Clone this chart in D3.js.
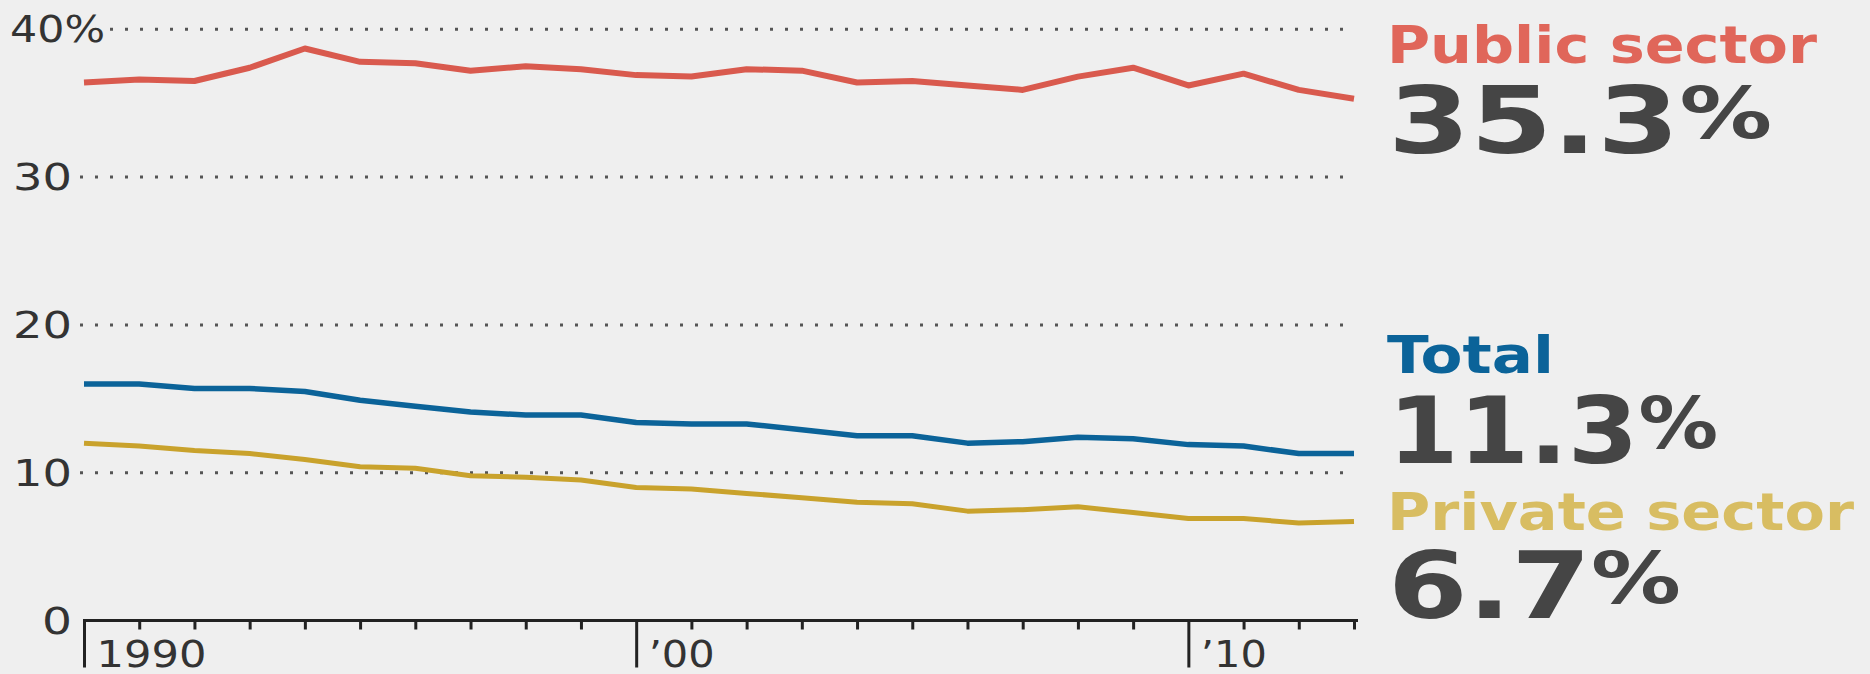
<!DOCTYPE html>
<html>
<head>
<meta charset="utf-8">
<script src="https://cdn.jsdelivr.net/npm/d3@7"></script>
<style>
  body { margin: 0; background: #efefef; }
  svg { display: block; }
</style>
</head>
<body>
<svg id="chart" width="1870" height="674"></svg>
<script>
var years = [1990, 1991, 1992, 1993, 1994, 1995, 1996, 1997, 1998, 1999, 2000, 2001,
             2002, 2003, 2004, 2005, 2006, 2007, 2008, 2009, 2010, 2011, 2012, 2013];
var publicSector = [36.4, 36.6, 36.5, 37.4, 38.7, 37.8, 37.7, 37.2, 37.5, 37.3, 36.9, 36.8,
                    37.3, 37.2, 36.4, 36.5, 36.2, 35.9, 36.8, 37.4, 36.2, 37.0, 35.9, 35.3];
var total = [16.0, 16.0, 15.7, 15.7, 15.5, 14.9, 14.5, 14.1, 13.9, 13.9, 13.4, 13.3,
             13.3, 12.9, 12.5, 12.5, 12.0, 12.1, 12.4, 12.3, 11.9, 11.8, 11.3, 11.3];
var privateSector = [12.0, 11.8, 11.5, 11.3, 10.9, 10.4, 10.3, 9.8, 9.7, 9.5, 9.0, 8.9,
                     8.6, 8.3, 8.0, 7.9, 7.4, 7.5, 7.7, 7.3, 6.9, 6.9, 6.6, 6.7];
var yTicks = [0, 10, 20, 30, 40];
var yLabels = ["0", "10", "20", "30", "40%"];
var decadeLabels = {1990: "1990", 2000: "\u201900", 2010: "\u201910"};
var seriesNames = ["Public sector", "Total", "Private sector"];
var latestValues = ["35.3", "11.3", "6.7"];

var svg = d3.select("#chart");

var x = d3.scaleLinear().domain([1990, 2013]).range([84, 1354]);
var y = d3.scaleLinear().domain([0, 40]).range([620.5, 29.3]);

// dotted gridlines
svg.append("g").selectAll("line")
    .data(yTicks.filter(function(d){ return d > 0; }))
    .enter().append("line")
    .attr("x1", function(d){ return d == 40 ? 110 : 80; })
    .attr("x2", 1352)
    .attr("y1", function(d){ return y(d); })
    .attr("y2", function(d){ return y(d); })
    .attr("stroke", "#555")
    .attr("stroke-width", 3)
    .attr("stroke-dasharray", "3,12");

// y labels
svg.append("g").selectAll("text")
    .data(yTicks)
    .enter().append("text")
    .attr("x", function(d){ return d == 40 ? 10 : 72; })
    .attr("y", function(d){ return y(d) + 13; })
    .attr("text-anchor", function(d){ return d == 40 ? "start" : "end"; })
    .attr("font-family", "DejaVu Sans")
    .attr("font-size", 37)
    .attr("fill", "#333")
    .attr("textLength", function(d){ return d == 40 ? 95 : (d == 0 ? 30 : 59); })
    .attr("lengthAdjust", "spacingAndGlyphs")
    .text(function(d, i){ return yLabels[i]; });

// x axis
var xAxis = d3.axisBottom(x)
    .tickValues(years)
    .tickSize(9)
    .tickSizeOuter(0)
    .tickFormat(function(d){ return decadeLabels[d] || ""; });

var gx = svg.append("g")
    .attr("transform", "translate(0,620.5)")
    .call(xAxis);

gx.select(".domain")
    .attr("stroke", "#222")
    .attr("stroke-width", 3)
    .attr("d", "M" + (x(1990) - 1) + ",0H" + (x(2013) + 4));
gx.selectAll(".tick line")
    .attr("stroke", "#222")
    .attr("stroke-width", 3)
    .attr("y2", function(d){ return decadeLabels[d] ? 47 : 9; });
gx.selectAll(".tick text")
    .attr("x", 12)
    .attr("y", 46)
    .attr("dy", 0)
    .attr("text-anchor", "start")
    .attr("font-family", "DejaVu Sans")
    .attr("font-size", 37)
    .attr("fill", "#333")
    .attr("textLength", function(d){ return d == 1990 ? 110 : (decadeLabels[d] ? 66 : null); })
    .attr("lengthAdjust", "spacingAndGlyphs");

// lines
var line = d3.line()
    .x(function(d, i){ return x(years[i]); })
    .y(function(d){ return y(d); });

var series = [
  {values: publicSector, color: "#d95a4e", width: 6},
  {values: total, color: "#0b6399", width: 5.5},
  {values: privateSector, color: "#c9a22c", width: 5}
];

svg.append("g").selectAll("path")
    .data(series)
    .enter().append("path")
    .attr("d", function(d){ return line(d.values); })
    .attr("fill", "none")
    .attr("stroke", function(d){ return d.color; })
    .attr("stroke-width", function(d){ return d.width; })
    .attr("stroke-linejoin", "round")
    .attr("stroke-linecap", "butt");

// right-hand labels
var nameBox = [
  {y: 63, len: 430, color: "#e0665a"},
  {y: 373, len: 167, color: "#0b6399"},
  {y: 530, len: 467, color: "#d8bd62"}
];
var valueBox = [
  {y: 153, len: 384},
  {y: 463, len: 330},
  {y: 618, len: 293}
];

var labels = svg.append("g");

labels.selectAll("text.name")
    .data(seriesNames)
    .enter().append("text")
    .attr("class", "name")
    .attr("x", 1387)
    .attr("y", function(d, i){ return nameBox[i].y; })
    .attr("font-family", "DejaVu Sans")
    .attr("font-weight", "bold")
    .attr("font-size", 52)
    .attr("fill", function(d, i){ return nameBox[i].color; })
    .attr("textLength", function(d, i){ return nameBox[i].len; })
    .attr("lengthAdjust", "spacingAndGlyphs")
    .text(function(d){ return d; });

var vals = labels.selectAll("text.value")
    .data(latestValues)
    .enter().append("text")
    .attr("class", "value")
    .attr("x", 1388)
    .attr("y", function(d, i){ return valueBox[i].y; })
    .attr("font-family", "DejaVu Sans")
    .attr("font-weight", "bold")
    .attr("font-size", 92)
    .attr("fill", "#454545")
    .attr("textLength", function(d, i){ return valueBox[i].len; })
    .attr("lengthAdjust", "spacingAndGlyphs");

vals.append("tspan").text(function(d){ return d; });
vals.append("tspan")
    .attr("font-size", 72)
    .attr("dy", -15)
    .text("%");
</script>
</body>
</html>
